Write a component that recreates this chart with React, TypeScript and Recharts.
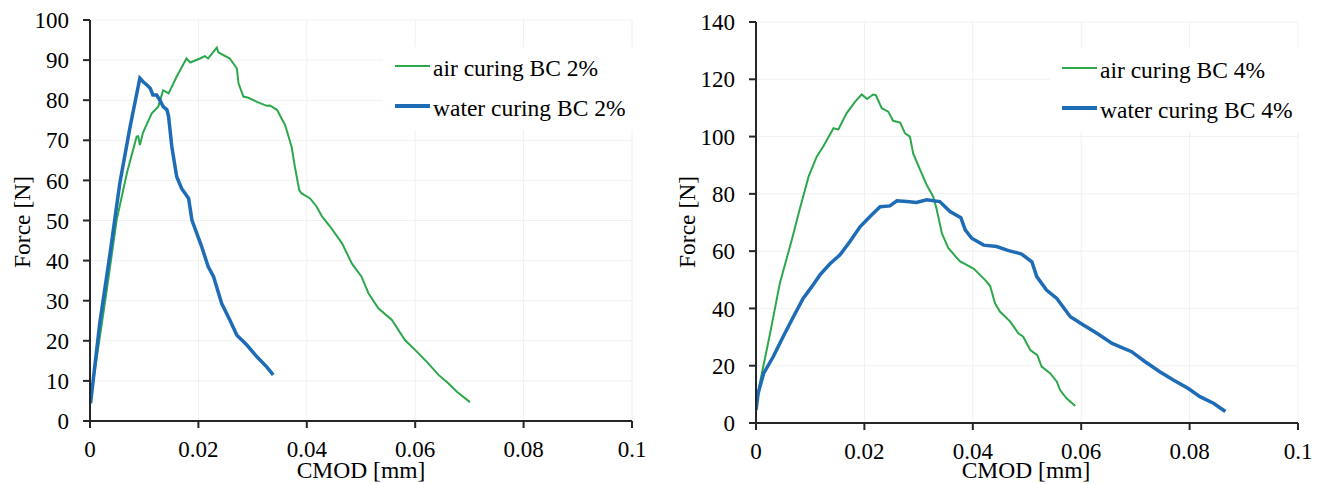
import React from "react";
import {
  LineChart,
  Line,
  XAxis,
  YAxis,
  CartesianGrid,
  Legend,
  Label,
} from "recharts";

/* =======================
   Data  ([CMOD mm, Force N])
======================= */
const AIR_2: [number, number][] = [
  [0, 4.4], [0.0031, 32.7], [0.0049, 50], [0.0068, 61.8], [0.0086, 70.9],
  [0.0089, 71], [0.0092, 68.8], [0.0098, 72], [0.0114, 76.7], [0.0126, 78.4],
  [0.0135, 82.5], [0.0145, 81.7], [0.016, 85.9], [0.0178, 90.4], [0.0185, 89.4],
  [0.0203, 90.4], [0.0212, 91], [0.0218, 90.4], [0.0234, 93.1], [0.0237, 91.9],
  [0.0258, 90.4], [0.0271, 87.9], [0.0274, 84.2], [0.0283, 80.9], [0.0292, 80.6],
  [0.0308, 79.6], [0.0326, 78.6], [0.0332, 78.7], [0.0345, 77.6], [0.036, 73.8],
  [0.0372, 68.4], [0.0378, 63.4], [0.0386, 57.6], [0.039, 56.8], [0.0406, 55.5],
  [0.0418, 53.5], [0.0428, 51], [0.0443, 48.5], [0.0465, 44.3], [0.0483, 39.3],
  [0.0501, 36], [0.0514, 31.8], [0.0532, 28.1], [0.0557, 25.2], [0.0581, 20.2],
  [0.0603, 17.3], [0.0621, 14.8], [0.0643, 11.5], [0.0661, 9.4], [0.0677, 7.3],
  [0.0701, 4.7],
];

const WATER_2: [number, number][] = [
  [0.0001, 4.4], [0.0018, 24.4], [0.0037, 41.8], [0.0055, 59.3], [0.0074, 73.4],
  [0.0092, 85.5], [0.0098, 84.6], [0.0105, 83.8], [0.0111, 83], [0.0116, 81.3],
  [0.0123, 81.3], [0.0129, 80], [0.0135, 78.4], [0.0142, 77.6], [0.0145, 75.9],
  [0.0151, 68.4], [0.016, 60.9], [0.0169, 58], [0.0182, 55.5], [0.0188, 50.1],
  [0.0197, 46.8], [0.0206, 43.5], [0.0218, 38.5], [0.0228, 36], [0.0243, 29.3],
  [0.0258, 25.2], [0.0271, 21.4], [0.0289, 19], [0.0308, 16], [0.0326, 13.5],
  [0.0338, 11.5],
];

const AIR_4: [number, number][] = [
  [0, 4.5], [0.0007, 13.8], [0.0026, 31.3], [0.0044, 48.8], [0.0066, 63.9],
  [0.0081, 74.9], [0.0097, 86], [0.0112, 93], [0.0124, 96.5], [0.0143, 102.9],
  [0.0152, 102.5], [0.0167, 108.1], [0.0183, 112.2], [0.0195, 114.7], [0.0205, 113.1],
  [0.0216, 114.7], [0.0221, 114.5], [0.0232, 109.9], [0.0244, 108.7], [0.0253, 105.5],
  [0.0266, 104.9], [0.0275, 101.1], [0.0284, 100], [0.029, 94.1], [0.0303, 88.3],
  [0.0315, 83.1], [0.0327, 79], [0.0333, 74.9], [0.0343, 66.2], [0.0355, 61],
  [0.0376, 56.5], [0.0402, 53.8], [0.0423, 49.9], [0.0432, 47.8], [0.0441, 41.8],
  [0.045, 38.9], [0.0469, 35.4], [0.0484, 31.3], [0.0493, 30.1], [0.0506, 25.5],
  [0.0519, 23.7], [0.0527, 19.7], [0.0543, 17.3], [0.0555, 14.4], [0.0561, 11.5],
  [0.0573, 8.6], [0.0589, 5.9],
];

const WATER_4: [number, number][] = [
  [0, 4.5], [0.0004, 10.4], [0.0014, 17.3], [0.0032, 23.2], [0.005, 30.1],
  [0.0069, 37.1], [0.0087, 43.5], [0.0103, 47.6], [0.0118, 51.7], [0.0137, 55.7],
  [0.0155, 58.7], [0.0173, 63.3], [0.0192, 68.5], [0.021, 72], [0.0229, 75.5],
  [0.0247, 75.8], [0.026, 77.6], [0.0278, 77.3], [0.0296, 77], [0.0315, 77.9],
  [0.0339, 77.3], [0.0358, 73.8], [0.0378, 71.7], [0.0386, 67.4], [0.0398, 64.5],
  [0.042, 62.1], [0.0444, 61.6], [0.0466, 60.2], [0.049, 59], [0.0509, 56.3],
  [0.0518, 51.1], [0.0536, 46.4], [0.0555, 43.5], [0.058, 37.1], [0.0604, 34.2],
  [0.0629, 31.3], [0.0657, 27.8], [0.0693, 24.9], [0.0718, 21.4], [0.0745, 17.9],
  [0.077, 15], [0.0797, 12.1], [0.0819, 9.2], [0.0844, 6.9], [0.0866, 4],
];

const X_TICKS = [0, 0.02, 0.04, 0.06, 0.08, 0.1];
const Y_TICKS_2 = [0, 10, 20, 30, 40, 50, 60, 70, 80, 90, 100];
const Y_TICKS_4 = [0, 20, 40, 60, 80, 100, 120, 140];

/* =======================
   Style
======================= */
const FONT = '"Liberation Serif", "Times New Roman", serif';
const GREEN = "#2ca84c";
const BLUE = "#1f6cb6";
const AXIS = "#262626";

const toPoints = (pairs: [number, number][]) =>
  pairs.map(([x, y]) => ({ x, y }));

/* =======================
   Panel
======================= */
interface PanelProps {
  air: [number, number][];
  water: [number, number][];
  airName: string;
  waterName: string;
  yMax: number;
  yTicks: number[];
  margin: { top: number; right: number; bottom: number; left: number };
  legendBox: { left: number; top: number };
  yLabelX: number;
  xLabelX: number;
}

const Panel = ({
  air,
  water,
  airName,
  waterName,
  yMax,
  yTicks,
  margin,
  legendBox,
  yLabelX,
  xLabelX,
}: PanelProps) => {
  const renderLegend = () => (
    <div
      style={{
        width: 250,
        height: 83,
        background: "#fff",
        fontFamily: FONT,
        fontSize: 23.5,
        color: "#000",
      }}
    >
      {[
        { name: airName, color: GREEN, w: 2 },
        { name: waterName, color: BLUE, w: 3.5 },
      ].map((it, i) => (
        <div
          key={it.name}
          style={{
            position: "absolute",
            top: 1 + i * 40,
            left: 12,
            height: 40,
            display: "flex",
            alignItems: "center",
            whiteSpace: "nowrap",
          }}
        >
          <span
            style={{
              display: "inline-block",
              width: 35,
              height: it.w,
              background: it.color,
              marginRight: 3,
              marginTop: -4,
            }}
          />
          <span>{it.name}</span>
        </div>
      ))}
    </div>
  );

  return (
    <LineChart width={660} height={484} margin={margin}>
      <CartesianGrid stroke="#f0f0f0" strokeWidth={1} />
      <XAxis
        dataKey="x"
        type="number"
        domain={[0, 0.1]}
        ticks={X_TICKS}
        tickFormatter={(v) => String(v)}
        height={50}
        axisLine={{ stroke: AXIS, strokeWidth: 2 }}
        tickLine={{ stroke: AXIS, strokeWidth: 2 }}
        tickSize={7}
        tickMargin={13}
        tick={{ fill: "#000", fontSize: 23, fontFamily: FONT }}
        allowDataOverflow
      >
        <Label
          content={() => (
            <text
              x={xLabelX}
              y={478}
              textAnchor="middle"
              fontFamily={FONT}
              fontSize={23.5}
              fill="#000"
            >
              CMOD [mm]
            </text>
          )}
        />
      </XAxis>
      <YAxis
        type="number"
        domain={[0, yMax]}
        ticks={yTicks}
        width={60}
        axisLine={{ stroke: AXIS, strokeWidth: 2 }}
        tickLine={{ stroke: AXIS, strokeWidth: 2 }}
        tickSize={7}
        tickMargin={14}
        tick={{ fill: "#000", fontSize: 23, fontFamily: FONT }}
        allowDataOverflow
      >
        <Label
          content={() => (
            <text
              x={yLabelX}
              y={222}
              transform={`rotate(-90 ${yLabelX} 222)`}
              textAnchor="middle"
              fontFamily={FONT}
              fontSize={23.5}
              fill="#000"
            >
              Force [N]
            </text>
          )}
        />
      </YAxis>
      <Legend
        layout="vertical"
        align="center"
        verticalAlign="middle"
        content={renderLegend}
        wrapperStyle={{ left: legendBox.left, top: legendBox.top, width: 250, height: 83 }}
      />
      <Line
        data={toPoints(air)}
        dataKey="y"
        name={airName}
        stroke={GREEN}
        strokeWidth={2}
        dot={false}
        isAnimationActive={false}
      />
      <Line
        data={toPoints(water)}
        dataKey="y"
        name={waterName}
        stroke={BLUE}
        strokeWidth={3.5}
        dot={false}
        isAnimationActive={false}
      />
    </LineChart>
  );
};

/* =======================
   App
======================= */
export default function App() {
  return (
    <div
      style={{
        position: "absolute",
        left: 0,
        top: 0,
        width: 1320,
        height: 484,
        background: "#fff",
        display: "flex",
      }}
    >
      <Panel
        air={AIR_2}
        water={WATER_2}
        airName="air curing BC 2%"
        waterName="water curing BC 2%"
        yMax={100}
        yTicks={Y_TICKS_2}
        margin={{ top: 20, right: 28, bottom: 13, left: 30 }}
        legendBox={{ left: 383, top: 47 }}
        yLabelX={30}
        xLabelX={361}
      />
      <Panel
        air={AIR_4}
        water={WATER_4}
        airName="air curing BC 4%"
        waterName="water curing BC 4%"
        yMax={140}
        yTicks={Y_TICKS_4}
        margin={{ top: 22, right: 22, bottom: 11, left: 36 }}
        legendBox={{ left: 390, top: 49 }}
        yLabelX={35}
        xLabelX={366}
      />
    </div>
  );
}
